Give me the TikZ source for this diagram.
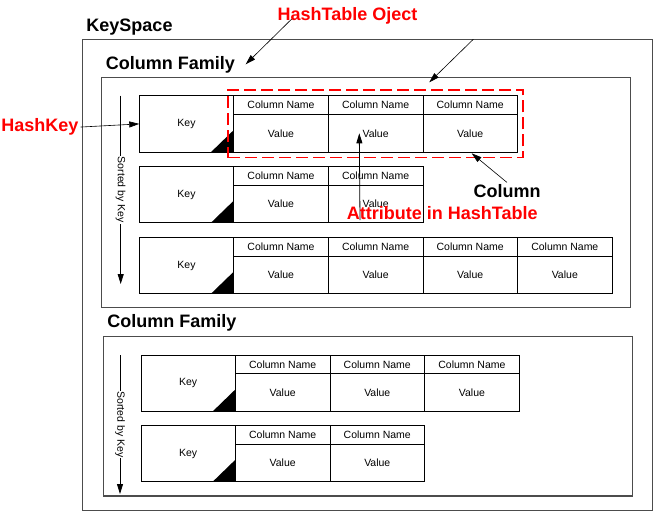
\documentclass[tikz,border=0pt]{standalone}
\usepackage{fontspec}
\setmainfont{Liberation Sans}
\usetikzlibrary{arrows.meta,fit}
\tikzset{
  smallfont/.style={font=\fontsize{10.5}{12}\selectfont},
  bigtext/.style={font=\fontsize{18}{20}\selectfont\bfseries, anchor=base, inner sep=2pt},
  redtext/.style={bigtext, text=red},
  outerbox/.style={draw=black!70, line width=1.2pt},
  keycell/.style={draw, line width=0.8pt, smallfont, anchor=north west, inner sep=0pt, outer sep=0pt,
    minimum width=94.4pt, minimum height=56.4pt},
  namecell/.style={draw, line width=0.8pt, smallfont, anchor=north west, inner sep=0pt, outer sep=0pt,
    minimum width=94.6pt, minimum height=18.7pt},
  valcell/.style={namecell, minimum height=37.7pt},
  hashbox/.style={draw=red, line width=1.6pt, dash pattern=on 12pt off 5pt, inner sep=5.5pt},
  sortlab/.style={smallfont, fill=white, rotate=-90, inner sep=1pt},
}
\begin{document}
\begin{tikzpicture}[x=1pt, y=-1pt, line join=miter, >={Triangle[length=10pt,width=6pt]}]
\useasboundingbox (0,0) rectangle (654,512);
% outer boxes
\draw[outerbox] (82.7,39.3) rectangle (652.3,510.7);
\draw[outerbox] (101.3,77.3) rectangle (630.8,307.3);
\draw[outerbox] (103.3,336.7) rectangle (632.7,496);
\node[bigtext] (keyspace) at (129.5,31.7) {KeySpace};
\node[bigtext] (cfa) at (170.5,69) {Column Family};
\node[bigtext] (cfb) at (172,327.3) {Column Family};
% rows: name/x/y/number of columns
\foreach \r/\px/\py/\n in {a/139.3/95.7/3, b/139.3/166.3/2, c/139.3/237.3/4, d/141/355/3, e/141/425.3/2}{
  \node[keycell] (k\r) at (\px,\py) {Key};
  \fill (k\r.south east) -- ++(-22.7,0) -- ++(22.7,-22) -- cycle;
  \foreach \i in {1,...,\n}{
    \node[namecell] (n\r\i) at ([xshift={94.6*(\i-1)}]k\r.north east) {Column Name};
    \node[valcell] (v\r\i) at (n\r\i.south west) {Value};
  }
}
% sorted by key
\coordinate (sa1) at (120.7,95.7);
\coordinate (sa2) at (120.7,284);
\coordinate (sb1) at (120,355);
\coordinate (sb2) at (120,494);
\draw[->, line width=0.8pt] (sa1) -- node[sortlab] (sorta) {Sorted by Key} (sa2);
\draw[->, line width=0.8pt] (sb1) -- node[sortlab] (sortb) {Sorted by Key} (sb2);
% hashtable object
\node[hashbox, fit=(na1)(va3)] (hbox) {};
\node[redtext] (hto) at (347.5,20) {HashTable Oject};
\node[redtext] (hashkey) at (40,131.7) {HashKey};
\node[bigtext] (col) at (507,197.7) {Column};
\coordinate (hta1) at (291.7,19);
\coordinate (hta2) at (245.7,64.3);
\coordinate (htb1) at (473.3,39.3);
\coordinate (htb2) at (429.3,82.3);
\coordinate (colend) at (471.7,153.3);
\coordinate (attr1) at (360,220);
\coordinate (attr2) at (359.3,133.3);
\draw[->, line width=0.6pt] (hta1) -- (hta2);
\draw[->, line width=0.6pt] (htb1) -- (htb2);
\draw[->, line width=0.6pt] (hashkey.east) -- (ka.west);
\draw[->, line width=0.6pt] (col.north) -- (colend);
\draw[->, line width=0.8pt] (attr1) -- (attr2);
\node[redtext] (attr) at (442.3,219.3) {Attribute in HashTable};
\end{tikzpicture}
\end{document}
